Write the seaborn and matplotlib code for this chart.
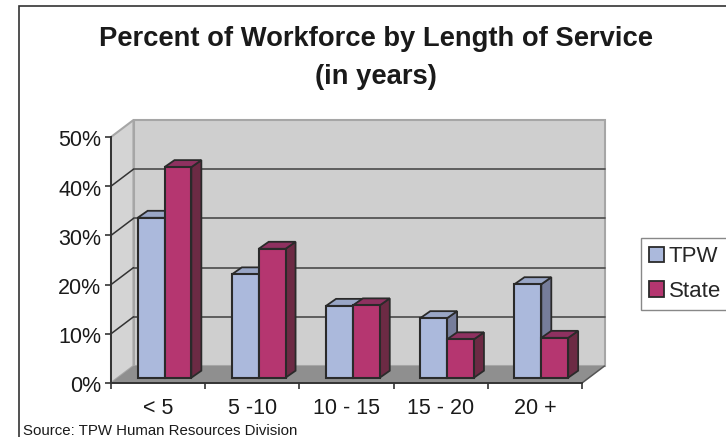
import matplotlib
matplotlib.use("Agg")
import matplotlib.pyplot as plt
import numpy as np
import pandas as pd
import seaborn as sns
from matplotlib.patches import Polygon, Rectangle
from matplotlib.transforms import Affine2D, IdentityTransform

categories = ["< 5", "5 -10", "10 - 15", "15 - 20", "20 +"]
tpw = [32.5, 21.0, 14.6, 12.1, 19.0]
state = [42.8, 26.2, 14.7, 7.8, 8.1]
yticks = [0, 10, 20, 30, 40, 50]
colors = {"TPW": "#abb9dc", "State": "#b53670"}
tops = {"TPW": "#99a6c6", "State": "#8e3160"}
sides = {"TPW": "#767d9b", "State": "#6c2a44"}
EDGE = "#2a2a2a"
W, H = 726, 437

sns.set_style("white")
plt.rcParams["font.family"] = ["Liberation Sans", "DejaVu Sans"]

df = pd.DataFrame({
    "cat": categories * 2,
    "series": ["TPW"] * 5 + ["State"] * 5,
    "val": tpw + state,
})

fig = plt.figure(figsize=(W / 100, H / 100), dpi=100)
ax = fig.add_axes([111 / W, 1 - 383 / H, (582 - 111) / W, (383 - 137) / H])
sns.barplot(data=df, x="cat", y="val", hue="series", palette=colors, width=0.57,
            gap=0, edgecolor=EDGE, linewidth=1.5, saturation=1, ax=ax, legend=False)
ax.set_xlim(-0.5, 4.5)
ax.set_ylim(0, 50)
ax.set_xlabel("")
ax.set_ylabel("")
ax.patch.set_alpha(0)

# walls, floor and gridlines sit behind the front plane
px = IdentityTransform()
DX, DY = 22.5, 17


def poly(points, zorder, **kw):
    ax.add_patch(Polygon(points, closed=True, transform=px, clip_on=False, zorder=zorder, **kw))


x0, y0 = ax.transData.transform((-0.5, 0))
x1, y1 = ax.transData.transform((4.5, 50))
poly([(x0 + DX, y0 + DY), (x1 + DX, y0 + DY), (x1 + DX, y1 + DY), (x0 + DX, y1 + DY)], 0.1,
     fc="#cfcfcf", ec="#a6a6a6", lw=1.5)
poly([(x0, y0), (x0 + DX, y0 + DY), (x0 + DX, y1 + DY), (x0, y1)], 0.1,
     fc="#d4d4d4", ec="#a6a6a6", lw=1.5)
poly([(x0, y0), (x1, y0), (x1 + DX, y0 + DY), (x0 + DX, y0 + DY)], 0.2,
     fc="#8f8f8f", ec="none")
for v in yticks[1:-1]:
    _, yv = ax.transData.transform((0, v))
    ax.plot([x0 + DX, x1 + DX], [yv + DY, yv + DY], transform=px, color="#555555", lw=1.3,
            clip_on=False, zorder=0.3)
    ax.plot([x0, x0 + DX], [yv, yv + DY], transform=px, color="#333333", lw=1.1,
            clip_on=False, zorder=0.3)
ax.plot([x1, x1 + DX], [y0, y0 + DY], transform=px, color="#555555", lw=1.1,
        clip_on=False, zorder=0.3)

# bars stand inside the floor, boxes are built from the bars seaborn drew
shift = Affine2D().translate(6.4, 5.3)
BX, BY = 10, 7
names = ["TPW"] * 5 + ["State"] * 5
for i, (bar, name) in enumerate(zip(ax.patches[:10], names)):
    bb = bar.get_window_extent()
    group = i % 5
    z = 1 + group + (0.5 if name == "State" else 0)
    l, r, b, t = bb.x0 + 6.4, bb.x1 + 6.4, bb.y0 + 5.3, bb.y1 + 5.3
    poly([(r, b), (r + BX, b + BY), (r + BX, t + BY), (r, t)], z, fc=sides[name], ec=EDGE, lw=1.3)
    poly([(l, t), (r, t), (r + BX, t + BY), (l + BX, t + BY)], z, fc=tops[name], ec=EDGE, lw=1.3)
    bar.set_transform(ax.transData + shift)
    bar.set_clip_on(False)
    bar.set_zorder(z + 0.1)

for s in ["top", "right"]:
    ax.spines[s].set_visible(False)
for s in ["left", "bottom"]:
    ax.spines[s].set_color("#333333")
    ax.spines[s].set_linewidth(1.4)
    ax.spines[s].set_zorder(20)

ax.set_yticks(yticks)
ax.set_yticklabels([f"{v}%" for v in yticks], fontsize=15.5, color="#1a1a1a")
ax.set_xticks(range(5))
ax.set_xticklabels(categories, fontsize=15.5, color="#1a1a1a")
ax.set_xticks(np.arange(-0.5, 5), minor=True)
ax.tick_params(axis="x", which="major", length=0, pad=11)
ax.tick_params(axis="x", which="minor", length=4, width=1.2, color="#333333", bottom=True)
ax.tick_params(axis="y", length=4, width=1.2, color="#333333", pad=3, left=True)
for label in ax.get_yticklabels():
    label.set_transform(label.get_transform() + Affine2D().translate(0, -1.5))

fig.text(376 / W, 1 - 39 / H, "Percent of Workforce by Length of Service", ha="center", va="center",
         fontsize=19.7, fontweight="bold", color="#1a1a1a")
fig.text(376 / W, 1 - 77 / H, "(in years)", ha="center", va="center",
         fontsize=19.7, fontweight="bold", color="#1a1a1a")
fig.text(23 / W, 1 - 431 / H, "Source: TPW Human Resources Division", ha="left", va="center",
         fontsize=10.8, color="#1a1a1a")

fig.add_artist(Rectangle((18.5 / W, -0.1), 1, 1.1 - 6.5 / H, transform=fig.transFigure, fill=False,
                         ec="#333333", lw=1.2))

handles = [Rectangle((0, 0), 1, 1, fc=colors[n], ec=EDGE, lw=1.3) for n in ["TPW", "State"]]
fig.legend(handles, ["TPW", "State"], loc="upper left", bbox_to_anchor=(640.7 / W, 1 - 238 / H),
           fontsize=16, frameon=True, fancybox=False, edgecolor="#888888", framealpha=1,
           handlelength=0.68, handleheight=0.68, handletextpad=0.23, labelspacing=0.62,
           borderpad=0.36, borderaxespad=0)

fig.savefig("out.png", dpi=100)
